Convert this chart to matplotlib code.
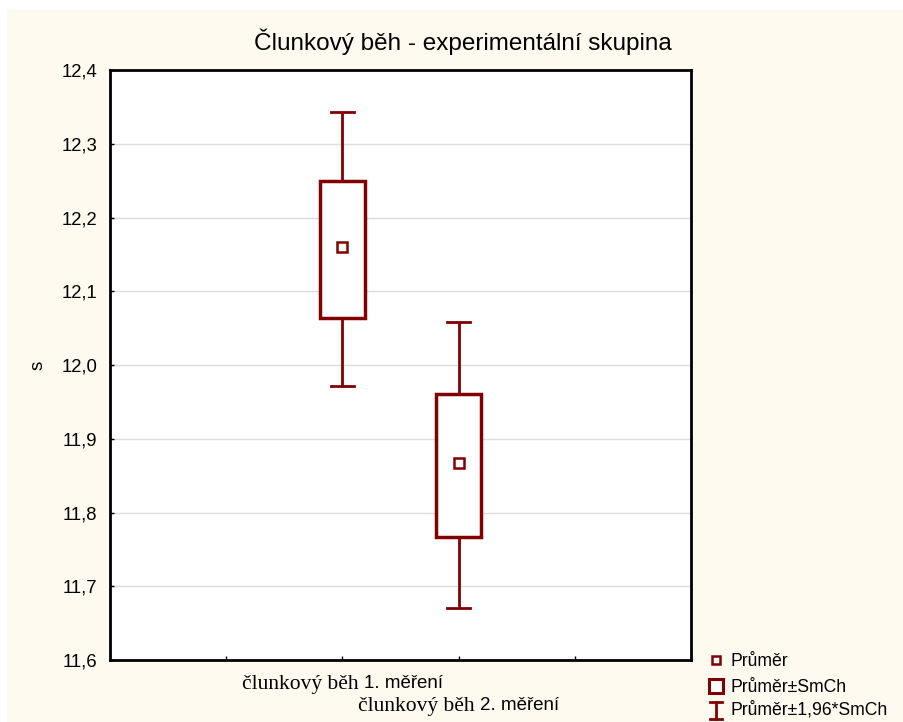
import matplotlib
matplotlib.use("Agg")
import matplotlib.pyplot as plt
from matplotlib.patches import Rectangle
from matplotlib.lines import Line2D

# ---- data ----
categories = ["1. měření", "2. měření"]
cat_prefix = "člunkový běh "
means = [12.160, 11.867]
se_low = [12.064, 11.767]
se_high = [12.250, 11.961]
ci_low = [11.971, 11.670]
ci_high = [12.343, 12.058]
yticks = [11.6, 11.7, 11.8, 11.9, 12.0, 12.1, 12.2, 12.3, 12.4]
title = "Člunkový běh - experimentální skupina"
ylabel = "s"
legend_labels = ["Průměr", "Průměr±SmCh", "Průměr±1,96*SmCh"]

RED = "#800000"
CREAM = "#fffaf0"
W, H = 904, 722
plt.rcParams['font.family'] = ['Liberation Sans', 'DejaVu Sans']

fig = plt.figure(figsize=(W / 100, H / 100), dpi=100, facecolor="white")
fig.patches.append(Rectangle((7 / W, 0), 1, 1 - 10 / H, transform=fig.transFigure,
                             facecolor=CREAM, edgecolor="none", zorder=-10))

ax = fig.add_axes([110 / W, 1 - 660 / H, 581 / W, 590 / H])
ax.set_facecolor("white")
ax.set_xlim(0, 5)
ax.set_ylim(11.6, 12.4)
ax.set_yticks(yticks)
ax.set_yticklabels([f"{v:.1f}".replace(".", ",") for v in yticks], fontsize=13.3)
ax.set_xticks([1, 2, 3, 4])
ax.set_xticklabels([])
ax.tick_params(axis="both", direction="in", length=3, width=1, color="black", pad=9)
ax.grid(axis="y", color="#dcdcdc", linewidth=1)
ax.set_axisbelow(True)
for s in ax.spines.values():
    s.set_linewidth(2)
    s.set_color("black")

xs = [2, 3]
bw = 0.39
cw = 0.2
for x, m, sl, sh, cl, ch in zip(xs, means, se_low, se_high, ci_low, ci_high):
    ax.plot([x, x], [sh, ch], color=RED, lw=2, zorder=3, solid_capstyle="butt")
    ax.plot([x, x], [cl, sl], color=RED, lw=2, zorder=3, solid_capstyle="butt")
    ax.plot([x - cw / 2, x + cw / 2], [ch, ch], color=RED, lw=2, zorder=3)
    ax.plot([x - cw / 2, x + cw / 2], [cl, cl], color=RED, lw=2, zorder=3)
    ax.add_patch(Rectangle((x - bw / 2, sl), bw, sh - sl, facecolor="white",
                           edgecolor=RED, lw=2.5, zorder=4))
    ax.plot([x], [m], marker="s", ms=6.5, mfc="white", mec=RED, mew=1.8, zorder=5)

ax.set_ylabel(ylabel, fontsize=13.5, family="Liberation Sans")
ax.yaxis.set_label_coords((38 - 110) / 581, 0.5)
ax.yaxis.label.set_va("center")

fig.text(463 / W, 1 - 42 / H, title, ha="center", va="center", fontsize=17.5)

# x category labels: serif prefix + sans suffix, staggered
fig.canvas.draw()
r = fig.canvas.get_renderer()
label_y = [684, 706]
for i, (x, cat) in enumerate(zip(xs, categories)):
    t1 = fig.text(0, 0, cat_prefix, family="Liberation Serif", fontsize=15.5, va="center", ha="left")
    t2 = fig.text(0, 0, cat, fontsize=13.5, va="center", ha="left")
    w1 = t1.get_window_extent(r).width
    w2 = t2.get_window_extent(r).width
    xc = ax.transData.transform((x, 0))[0]
    x0 = xc - (w1 + w2) / 2
    yy = 1 - label_y[i] / H
    t1.set_position((x0 / W, yy))
    t2.set_position(((x0 + w1) / W, yy))

# legend (manual, pixel coordinates)
lx = 716
fig.add_artist(Line2D([lx / W], [1 - 660 / H], marker="s", ms=6, mfc="white", mec=RED, mew=1.8,
                      transform=fig.transFigure))
fig.add_artist(Rectangle(((lx - 7) / W, 1 - 693 / H), 14 / W, 14 / H, transform=fig.transFigure,
                         facecolor="white", edgecolor=RED, lw=2.2))
fig.add_artist(Line2D([lx / W, lx / W], [1 - 702 / H, 1 - 719 / H], color=RED, lw=2,
                      transform=fig.transFigure))
for yy in (702, 719):
    fig.add_artist(Line2D([(lx - 6) / W, (lx + 6) / W], [1 - yy / H, 1 - yy / H], color=RED, lw=2,
                          transform=fig.transFigure))
for lab, yy in zip(legend_labels, [661, 687, 710]):
    fig.text(731 / W, 1 - yy / H, lab, fontsize=12.7, va="center", ha="left")

fig.savefig("out.png", dpi=100, facecolor="white")
